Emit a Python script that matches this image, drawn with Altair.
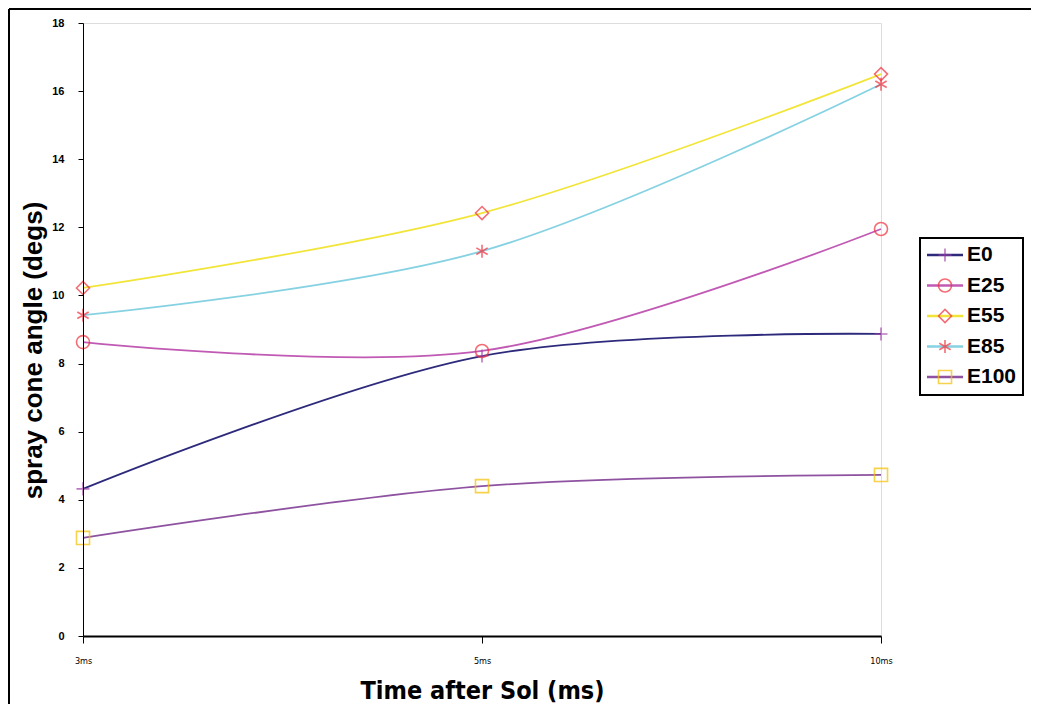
import altair as alt
import pandas as pd

x_labels = ["3ms", "5ms", "10ms"]
series = ["E0", "E25", "E55", "E85", "E100"]
E0 = [4.32, 8.22, 8.87]
E25 = [8.63, 8.37, 11.95]
E55 = [10.22, 12.42, 16.5]
E85 = [9.42, 11.3, 16.2]
E100 = [2.88, 4.4, 4.73]
y_ticks = [0, 2, 4, 6, 8, 10, 12, 14, 16, 18]

line_colors = ["#2d2a7c", "#c05ab4", "#f2e53a", "#86d2e2", "#8e52a0"]
marker_colors = ["#a040a8", "#f0303c", "#f0303c", "#f0303c", "#f5c000"]
plus_path = "M-1,0L1,0M0,-1L0,1"
star_path = "M0,-1L0,1M-0.87,-0.5L0.87,0.5M-0.87,0.5L0.87,-0.5"
shapes = [plus_path, "circle", "diamond", star_path, "square"]

rows = []
for name, vals in zip(series, [E0, E25, E55, E85, E100]):
    for t, v in zip(x_labels, vals):
        rows.append({"time": t, "value": v, "series": name})
df = pd.DataFrame(rows)
leg_df = pd.DataFrame({"series": series})
one = pd.DataFrame({"k": [0]})

NARROW = "DejaVu Sans Condensed, Liberation Sans, sans-serif"
W_PLOT, H_PLOT = 798, 613

xs = alt.X("time:N", sort=x_labels,
           scale=alt.Scale(type="point", domain=x_labels, padding=0),
           axis=alt.Axis(title="Time after Sol (ms)", labelAngle=0, labelFontSize=9,
                         labelFont=NARROW, labelPadding=13,
                         tickSize=7, tickColor="black", domainColor="black",
                         domainWidth=2, titleFont=NARROW,
                         titleFontSize=25, titleFontWeight="bold", titlePadding=13,
                         labelColor="black", titleColor="black", grid=False, zindex=2))
ys = alt.Y("value:Q",
           scale=alt.Scale(domain=[0, 18], nice=False, zero=True),
           axis=alt.Axis(title="spray cone angle (degs)", values=y_ticks, labelFontSize=11,
                         labelFont="Liberation Sans", labelFontWeight="bold", labelPadding=14, tickSize=5,
                         tickColor="black", domainColor="black", labelColor="black",
                         titleFont="Liberation Sans", titleFontSize=26,
                         titleFontWeight="bold", titleColor="black",
                         titleX=-50, titleY=327, titleBaseline="middle", titleAlign="center",
                         grid=False, zindex=2))
ys_noaxis = alt.Y("value:Q", scale=alt.Scale(domain=[0, 18], nice=False, zero=True), axis=None)

stroke_enc = alt.Stroke("series:N", scale=alt.Scale(domain=series, range=line_colors), legend=None)
color_enc = alt.Color("series:N", scale=alt.Scale(domain=series, range=marker_colors), legend=None)
shape_enc = alt.Shape("series:N", scale=alt.Scale(domain=series, range=shapes), legend=None)

lines = alt.Chart(df).mark_line(interpolate="catmull-rom", strokeWidth=1.8).encode(
    x=xs, y=ys, stroke=stroke_enc, detail="series:N")
points = alt.Chart(df).mark_point(filled=False, size=170, strokeWidth=1.6).encode(
    x=alt.X("time:N", sort=x_labels, scale=alt.Scale(type="point", domain=x_labels, padding=0), axis=None),
    y=ys_noaxis, color=color_enc, shape=shape_enc)

leg_y = alt.Y("series:N", scale=alt.Scale(type="point", domain=series, range=[232, 354], padding=0), axis=None)
leg_box = alt.Chart(one).mark_rect(fill="white", stroke="black", strokeWidth=2).encode(
    x=alt.value(837), x2=alt.value(940), y=alt.value(215), y2=alt.value(372))
leg_lines = alt.Chart(leg_df).mark_rule(strokeWidth=2.5).encode(
    x=alt.value(844), x2=alt.value(880), y=leg_y, stroke=stroke_enc)
leg_pts = alt.Chart(leg_df).mark_point(filled=False, size=170, strokeWidth=1.6).encode(
    x=alt.value(862), y=leg_y, color=color_enc, shape=shape_enc)
leg_text = alt.Chart(leg_df).mark_text(align="left", baseline="middle", font="Liberation Sans",
                                       fontSize=21, fontWeight="bold", color="black").encode(
    x=alt.value(884), y=leg_y, text="series:N")

frame_top = alt.Chart(one).mark_rule(color="black", strokeWidth=2).encode(
    x=alt.value(-74), x2=alt.value(948), y=alt.value(-14))
frame_left = alt.Chart(one).mark_rule(color="black", strokeWidth=2).encode(
    x=alt.value(-74), y=alt.value(-14), y2=alt.value(681))

chart = alt.layer(frame_top, frame_left, lines, points, leg_box, leg_lines, leg_pts, leg_text).resolve_scale(
    y="independent", x="independent"
).properties(
    width=W_PLOT, height=H_PLOT,
    autosize=alt.AutoSizeParams(type="none"),
    padding={"left": 75, "top": 15, "right": 150, "bottom": 68},
).configure_view(stroke=None).configure(background="white")

chart.save("out.html", embed_options={"renderer": "svg", "actions": False})
